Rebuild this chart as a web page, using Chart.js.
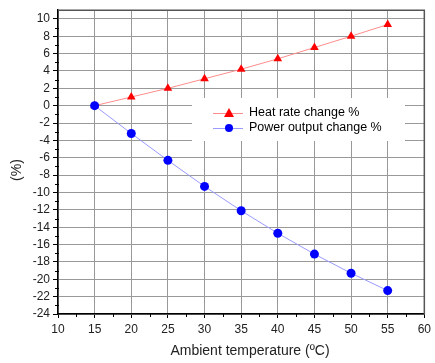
<!DOCTYPE html>
<html>
<head>
<meta charset="utf-8">
<script src="https://cdn.jsdelivr.net/npm/chart.js@4/dist/chart.umd.min.js"></script>
<style>
  html, body { margin: 0; padding: 0; background: #fff; }
  #wrap { width: 435px; height: 363px; }
</style>
</head>
<body>
<div id="wrap"><canvas id="chart"></canvas></div>
<script>
// values
const temps = [15, 20, 25, 30, 35, 40, 45, 50, 55];
const heatRate = [0, 1.0, 2.0, 3.1, 4.2, 5.4, 6.7, 8.0, 9.35];
const powerOut = [0, -3.2, -6.3, -9.3, -12.1, -14.7, -17.1, -19.3, -21.3];
const xTicks = [10, 15, 20, 25, 30, 35, 40, 45, 50, 55, 60];
const yTicks = [-24, -22, -20, -18, -16, -14, -12, -10, -8, -6, -4, -2, 0, 2, 4, 6, 8, 10];
const seriesNames = ['Heat rate change %', 'Power output change %'];
const xTitle = 'Ambient temperature (ºC)';
const yTitle = '(%)';

const FONT = 'Liberation Sans, Arial, sans-serif';

const toPoints = (ys) => temps.map((t, i) => ({ x: t, y: ys[i] }));

// frame, minor ticks, axis titles and the boxed legend inside the plot
const extras = {
    id: 'extras',
    afterDraw(chart) {
        const ctx = chart.ctx;
        const a = chart.chartArea;
        const xs = chart.scales.x, ys = chart.scales.y;
        ctx.save();
        // top / right frame
        ctx.strokeStyle = '#555';
        ctx.lineWidth = 1.5;
        ctx.beginPath();
        ctx.moveTo(a.left, a.top);
        ctx.lineTo(a.right, a.top);
        ctx.lineTo(a.right, a.bottom);
        ctx.stroke();

        // minor ticks
        ctx.strokeStyle = '#000';
        ctx.lineWidth = 1;
        ctx.beginPath();
        for (let v = 12.5; v < 60; v += 5) {
            const px = Math.round(xs.getPixelForValue(v)) + 0.5;
            ctx.moveTo(px, a.bottom - 1);
            ctx.lineTo(px, a.bottom + 3);
        }
        for (let v = -23; v < 11; v += 2) {
            const py = Math.round(ys.getPixelForValue(v)) + 0.5;
            ctx.moveTo(a.left + 1, py);
            ctx.lineTo(a.left - 3, py);
        }
        ctx.stroke();

        // axis titles
        ctx.fillStyle = '#222';
        ctx.font = '14px ' + FONT;
        ctx.textAlign = 'center';
        ctx.textBaseline = 'middle';
        ctx.fillText(xTitle, 250, 351);
        ctx.save();
        ctx.translate(17, 170);
        ctx.rotate(-Math.PI / 2);
        ctx.fillText(yTitle, 0, 0);
        ctx.restore();

        // legend box
        const bx = 192, by = 98, bw = 213, bh = 43;
        ctx.fillStyle = '#fff';
        ctx.fillRect(bx, by, bw, bh);
        ctx.font = '12.5px ' + FONT;
        ctx.textBaseline = 'middle';
        chart.data.datasets.forEach((ds, i) => {
            const cy = 113 + i * 15;
            ctx.strokeStyle = ds.borderColor;
            ctx.lineWidth = 1;
            ctx.beginPath();
            ctx.moveTo(213, cy + 0.5);
            ctx.lineTo(243, cy + 0.5);
            ctx.stroke();
            ctx.fillStyle = ds.pointBackgroundColor;
            ctx.beginPath();
            if (ds.pointStyle === 'triangle') {
                ctx.moveTo(229, cy - 5);
                ctx.lineTo(234, cy + 4);
                ctx.lineTo(224, cy + 4);
                ctx.closePath();
            } else {
                ctx.arc(229, cy, 4, 0, Math.PI * 2);
            }
            ctx.fill();
            ctx.fillStyle = '#000';
            ctx.textAlign = 'left';
            ctx.fillText(seriesNames[i], 249, cy);
        });
        ctx.restore();
    }
};

new Chart(document.getElementById('chart'), {
    type: 'line',
    data: {
        datasets: [
            {
                label: seriesNames[0],
                data: toPoints(heatRate),
                order: 1,
                borderColor: '#ff8c8c',
                borderWidth: 1,
                pointStyle: 'triangle',
                pointRadius: 5,
                pointBackgroundColor: '#ff0000',
                pointBorderColor: '#ff0000',
                pointBorderWidth: 0
            },
            {
                label: seriesNames[1],
                data: toPoints(powerOut),
                order: 0,
                borderColor: '#9a9aff',
                borderWidth: 1,
                pointStyle: 'circle',
                pointRadius: 4.5,
                pointBackgroundColor: '#0000ff',
                pointBorderColor: '#0000ff',
                pointBorderWidth: 0
            }
        ]
    },
    options: {
        responsive: true,
        maintainAspectRatio: false,
        animation: false,
        events: [],
        layout: { padding: { top: 8, right: 4, left: 0, bottom: 0 } },
        plugins: {
            legend: { display: false },
            tooltip: { enabled: false }
        },
        scales: {
            x: {
                type: 'linear',
                min: 10,
                max: 60,
                afterBuildTicks: (s) => { s.ticks = xTicks.map(v => ({ value: v })); },
                afterFit: (s) => { s.height = 49; },
                ticks: {
                    color: '#222',
                    font: { family: FONT, size: 12 },
                    padding: 4,
                    maxRotation: 0
                },
                grid: {
                    color: '#999',
                    lineWidth: 1,
                    tickLength: 4,
                    tickColor: '#000'
                },
                border: { color: '#000', width: 1.5 },
                title: { display: false }
            },
            y: {
                type: 'linear',
                min: -24,
                max: 11,
                afterBuildTicks: (s) => { s.ticks = yTicks.map(v => ({ value: v })); },
                afterFit: (s) => { s.width = 58; },
                ticks: {
                    color: '#222',
                    font: { family: FONT, size: 12 },
                    padding: 3
                },
                grid: {
                    color: '#999',
                    lineWidth: 1,
                    tickLength: 5,
                    tickColor: '#000'
                },
                border: { color: '#000', width: 1.5 },
                title: { display: false }
            }
        }
    },
    plugins: [extras]
});
</script>
</body>
</html>
